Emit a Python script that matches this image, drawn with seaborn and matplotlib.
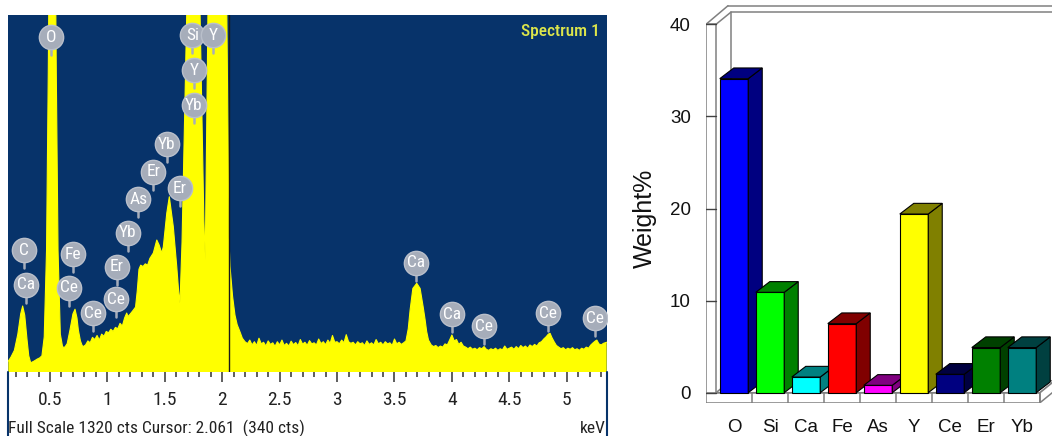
import numpy as np
import matplotlib
matplotlib.use("Agg")
import matplotlib.pyplot as plt
from matplotlib.patches import Polygon, Rectangle
from matplotlib.lines import Line2D
from matplotlib.ticker import MultipleLocator, FixedLocator
from matplotlib import transforms
import seaborn as sns

# ---------------- EDS spectrum (energy in keV, counts) ----------------
spectrum_kev = [
    0.137, 0.16, 0.19, 0.22, 0.245, 0.262, 0.28, 0.30, 0.315, 0.332,
    0.36, 0.39, 0.41, 0.43, 0.45, 0.47, 0.485, 0.50, 0.52, 0.54,
    0.555, 0.57, 0.59, 0.61, 0.63, 0.65, 0.674, 0.70, 0.718, 0.735,
    0.747, 0.765, 0.78, 0.79, 0.81, 0.83, 0.85, 0.87, 0.89, 0.91,
    0.93, 0.95, 0.97, 0.99, 1.01, 1.03, 1.05, 1.07, 1.09, 1.11,
    1.13, 1.15, 1.168, 1.18, 1.20, 1.226, 1.245, 1.26, 1.275, 1.29,
    1.31, 1.33, 1.35, 1.37, 1.40, 1.43, 1.45, 1.473, 1.487, 1.517,
    1.539, 1.574, 1.604, 1.62, 1.632, 1.65, 1.67, 1.69, 1.72, 1.75,
    1.78, 1.807, 1.825, 1.84, 1.852, 1.862, 1.875, 1.90, 1.95, 2.00,
    2.02, 2.04, 2.05, 2.058, 2.068, 2.09, 2.111, 2.13, 2.155, 2.175,
    2.198, 2.22, 2.24, 2.26, 2.28, 2.30, 2.32, 2.34, 2.36, 2.38,
    2.40, 2.42, 2.44, 2.46, 2.48, 2.50, 2.52, 2.54, 2.56, 2.58,
    2.60, 2.62, 2.64, 2.66, 2.68, 2.70, 2.72, 2.74, 2.76, 2.78,
    2.80, 2.82, 2.84, 2.86, 2.88, 2.90, 2.92, 2.94, 2.96, 2.98,
    3.00, 3.02, 3.04, 3.06, 3.08, 3.10, 3.12, 3.14, 3.16, 3.18,
    3.20, 3.22, 3.24, 3.26, 3.28, 3.30, 3.32, 3.34, 3.36, 3.38,
    3.40, 3.42, 3.44, 3.46, 3.48, 3.50, 3.52, 3.54, 3.56, 3.58,
    3.60, 3.62, 3.636, 3.66, 3.694, 3.723, 3.75, 3.767, 3.78, 3.796,
    3.82, 3.84, 3.86, 3.88, 3.90, 3.92, 3.94, 3.96, 3.98, 4.00,
    4.02, 4.04, 4.06, 4.08, 4.10, 4.12, 4.14, 4.16, 4.18, 4.20,
    4.22, 4.24, 4.26, 4.28, 4.30, 4.32, 4.34, 4.36, 4.38, 4.40,
    4.42, 4.44, 4.46, 4.48, 4.50, 4.52, 4.54, 4.56, 4.58, 4.60,
    4.62, 4.64, 4.66, 4.68, 4.70, 4.72, 4.74, 4.76, 4.78, 4.80,
    4.82, 4.84, 4.855, 4.87, 4.89, 4.91, 4.93, 4.95, 4.97, 4.99,
    5.01, 5.03, 5.05, 5.07, 5.09, 5.11, 5.13, 5.15, 5.17, 5.19,
    5.21, 5.23, 5.25, 5.262, 5.28, 5.30, 5.32, 5.348,
]
spectrum_cts = [
    40, 55, 80, 140, 215, 244, 210, 120, 60, 34,
    40, 48, 52, 60, 130, 450, 1100, 1900, 2350, 1900,
    1100, 450, 140, 92, 92, 105, 155, 215, 232, 200,
    155, 115, 98, 94, 100, 115, 108, 128, 120, 135,
    118, 140, 132, 150, 145, 158, 150, 165, 160, 180,
    170, 200, 218, 205, 215, 229, 240, 300, 380, 395,
    390, 400, 395, 420, 440, 488, 470, 440, 463, 587,
    648, 537, 389, 300, 254, 480, 900, 1320, 1800, 1900,
    1750, 1320, 900, 560, 414, 800, 1320, 2000, 2400, 2300,
    1900, 1320, 900, 500, 389, 280, 210, 175, 148, 125,
    112, 105, 118, 100, 112, 98, 125, 104, 110, 96,
    115, 102, 108, 95, 112, 100, 118, 98, 106, 96,
    114, 101, 109, 97, 120, 103, 110, 99, 116, 104,
    108, 100, 122, 105, 112, 101, 118, 106, 135, 110,
    112, 104, 118, 108, 138, 112, 106, 110, 100, 112,
    104, 108, 98, 115, 102, 108, 100, 120, 104, 110,
    100, 112, 104, 108, 98, 122, 104, 110, 102, 108,
    115, 160, 229, 309, 328, 309, 240, 192, 150, 118,
    100, 94, 98, 90, 96, 92, 104, 100, 118, 137,
    115, 120, 102, 110, 96, 92, 86, 92, 84, 88,
    82, 90, 86, 94, 84, 80, 86, 82, 88, 80,
    86, 82, 96, 84, 88, 92, 84, 94, 86, 98,
    90, 96, 88, 100, 94, 102, 96, 108, 112, 122,
    130, 140, 143, 128, 112, 98, 92, 86, 90, 82,
    88, 84, 90, 82, 86, 80, 88, 84, 92, 88,
    100, 108, 115, 118, 104, 100, 106, 110,
]

# Element line markers: label, energy (keV), marker height (counts)
marker_text = ["O", "Si", "Y", "Yb", "Y", "Yb", "Er", "As", "Er", "Yb",
               "Er", "Ce", "Ce", "Fe", "Ce", "C", "Ca", "Ca", "Ca", "Ce",
               "Ce", "Ce"]
marker_kev = [0.509, 1.740, 1.754, 1.754, 1.922, 1.517, 1.400, 1.269, 1.632, 1.177,
              1.081, 1.072, 0.872, 0.703, 0.666, 0.274, 0.291, 3.688, 4.004, 4.280,
              4.841, 5.247]
marker_cts = [1238, 1246, 1116, 987, 1246, 843, 741, 638, 679, 515,
              389, 269, 217, 435, 312, 451, 322, 404, 213, 170,
              217, 199]

full_scale_cts = 1320
cursor_kev = 2.061
cursor_cts = 340
major_ticks_kev = [0.5, 1.0, 1.5, 2.0, 2.5, 3.0, 3.5, 4.0, 4.5, 5.0]
major_tick_labels = ["0.5", "1", "1.5", "2", "2.5", "3", "3.5", "4", "4.5", "5"]

# ---------------- Composition (weight %) ----------------
elements = ["O", "Si", "Ca", "Fe", "As", "Y", "Ce", "Er", "Yb"]
weight_pct = [34.1, 10.9, 1.7, 7.5, 0.8, 19.4, 2.0, 4.9, 4.9]
front_colors = ["#0000FF", "#00FF00", "#00FFFF", "#FF0000", "#FF00FF",
                "#FFFF00", "#000080", "#008000", "#008080"]
shade_colors = ["#000080", "#008000", "#008080", "#800000", "#800080",
                "#808000", "#000040", "#004000", "#004040"]
weight_ticks = [0, 10, 20, 30, 40]

# ---------------- styling ----------------
sns.set_theme(style="white")
narrow = ["Roboto Condensed", "Liberation Sans Narrow", "Liberation Sans", "DejaVu Sans"]
arial = ["Liberation Sans", "DejaVu Sans"]
plt.rcParams["font.family"] = narrow

W, H = 1052, 436
fig = plt.figure(figsize=(W / 100, H / 100), dpi=100)
fig.patch.set_facecolor("white")

navy = "#07336A"
yellow = "#FFFF00"

# ---------------- left panel: spectrum ----------------
L0, R0, T0, B0 = 8.3, 606.7, 15.0, 372.0
ax = fig.add_axes([L0 / W, (H - B0) / H, (R0 - L0) / W, (B0 - T0) / H])
ax.set_facecolor(navy)
ax.fill_between(spectrum_kev, spectrum_cts, 0, color=yellow, lw=0, zorder=2)
sns.lineplot(x=spectrum_kev, y=spectrum_cts, ax=ax, color=yellow, lw=0.8,
             sort=False, estimator=None, zorder=2)
ax.set_xlim(spectrum_kev[0], spectrum_kev[-1])
ax.set_ylim(0, full_scale_cts)
ax.axvline(cursor_kev, color="#1a1a1a", lw=1.0, zorder=3)

for side in ax.spines.values():
    side.set_visible(False)
ax.set_yticks([])
ax.xaxis.set_major_locator(FixedLocator(major_ticks_kev))
ax.set_xticklabels(major_tick_labels)
ax.xaxis.set_minor_locator(MultipleLocator(0.1))
ax.tick_params(axis="x", which="both", bottom=True, direction="out",
               color="#333333", width=1.1)
ax.tick_params(axis="x", which="major", length=7, pad=7, labelsize=14,
               labelcolor="#222222")
ax.tick_params(axis="x", which="minor", length=3.5)

# element badges with a short stem pointing at the line
badge_face = "#A6ADBA"
for lab, e, c in zip(marker_text, marker_kev, marker_cts):
    anchor = fig.dpi_scale_trans + transforms.ScaledTranslation(e, c, ax.transData)
    stem = Line2D([0, 0], [-0.10, -0.18], transform=anchor, color=badge_face,
                  lw=1.8, zorder=4)
    stem.set_clip_path(ax.patch)
    ax.add_line(stem)
    ax.plot([e], [c], "o", ms=17.5, mfc=badge_face, mec="#B9BFCA", mew=1.0,
            zorder=5, clip_on=True)
    ax.text(e, c, lab, ha="center", va="center", color="white", fontsize=12.5,
            zorder=6, clip_on=True)

ax.text(0.988, 0.955, "Spectrum 1", transform=ax.transAxes, ha="right",
        va="center", color="#DDE64B", fontsize=12.5, fontweight="medium")

# blue border continuing below the plot area
for xb in (L0, R0):
    fig.add_artist(Line2D([xb / W, xb / W], [0, (H - B0) / H], color=navy, lw=1.5))

fig.text(L0 / W, 1 - 428 / H,
         f"Full Scale {full_scale_cts} cts Cursor: {cursor_kev:.3f}  ({cursor_cts} cts)",
         ha="left", va="center", fontsize=12.5, color="#222222")
fig.text((R0 - 1) / W, 1 - 428 / H, "keV", ha="right", va="center",
         fontsize=12.5, color="#222222")

# ---------------- right panel: 3D-style bar chart ----------------
x_lo, x_hi = -0.778, 8.833
y_lo, y_hi = -1.086, 42.64
ax2 = fig.add_axes([706 / W, (H - 402.7) / H, 346 / W, 402.7 / H])
ax2.set_facecolor("none")

sns.barplot(x=elements, y=weight_pct, hue=elements, palette=front_colors,
            hue_order=elements, order=elements, width=0.79, saturation=1,
            edgecolor="black", linewidth=0.8, legend=False, ax=ax2)
ax2.set_xlim(x_lo, x_hi)
ax2.set_ylim(y_lo, y_hi)

bar_dx, bar_dy = 0.389, 1.16      # bar depth offset
fr_dx, fr_dy = 0.408, 1.30        # frame depth offset
wall = -0.5
floor_front = -1.086
frame_col = "#808080"

bars = sorted([p for p in ax2.patches if isinstance(p, Rectangle)],
              key=lambda p: p.get_x())
for i, (p, shade) in enumerate(zip(bars, shade_colors)):
    x0, w, h = p.get_x(), p.get_width(), p.get_height()
    x1 = x0 + w
    z = 3 + 0.1 * i
    p.set_zorder(z)
    side_face = Polygon([(x1, 0), (x1 + bar_dx, bar_dy), (x1 + bar_dx, h + bar_dy), (x1, h)],
                        closed=True, facecolor=shade, edgecolor="black", lw=0.8, zorder=z + 0.01)
    top_face = Polygon([(x0, h), (x1, h), (x1 + bar_dx, h + bar_dy), (x0 + bar_dx, h + bar_dy)],
                       closed=True, facecolor=shade, edgecolor="black", lw=0.8, zorder=z + 0.02)
    ax2.add_patch(side_face)
    ax2.add_patch(top_face)

n = len(elements)
right_end = n - 0.5
frame_kw = dict(edgecolor=frame_col, facecolor="white", lw=1.1, zorder=1)
# floor: top, front strip, end cap
ax2.add_patch(Polygon([(wall, 0), (right_end, 0), (right_end + fr_dx, fr_dy), (wall + fr_dx, fr_dy)], **frame_kw))
ax2.add_patch(Polygon([(x_lo, floor_front), (right_end, floor_front), (right_end, 0), (x_lo, 0)], **frame_kw))
ax2.add_patch(Polygon([(right_end, floor_front), (right_end + fr_dx, floor_front + fr_dy),
                       (right_end + fr_dx, fr_dy), (right_end, 0)], **frame_kw))
for k in range(n):
    ax2.plot([k + 0.5, k + 0.5], [floor_front, 0], color=frame_col, lw=1.1, zorder=1.1)
# side wall
top = weight_ticks[-1]
ax2.add_patch(Polygon([(x_lo, 0), (wall, 0), (wall, top), (x_lo, top)], **frame_kw))
ax2.plot([x_lo, x_lo + 0.611], [top, top + 2.02], color=frame_col, lw=1.1, zorder=1)
ax2.plot([wall, wall + fr_dx], [top, top + fr_dy], color=frame_col, lw=1.1, zorder=1)
# back wall
ax2.plot([wall + fr_dx, wall + fr_dx], [fr_dy, top + fr_dy], color=frame_col, lw=1.1, zorder=1)
ax2.plot([wall + fr_dx, x_hi], [top + fr_dy, top + fr_dy], color=frame_col, lw=1.1, zorder=1)
ax2.plot([x_lo + 0.611, x_hi], [top + 2.02, top + 2.02], color=frame_col, lw=1.1, zorder=1)
# tick marks across the wall face
for v in weight_ticks:
    ax2.plot([x_lo, wall], [v, v], color="#404040", lw=1.0, zorder=1.2)

for side in ax2.spines.values():
    side.set_visible(False)
ax2.grid(False)
ax2.set_yticks(weight_ticks)
ax2.set_yticklabels([str(v) for v in weight_ticks], fontfamily=arial)
ax2.set_xticks(range(n))
ax2.set_xticklabels(elements, fontfamily=arial)
ax2.tick_params(axis="y", length=0, pad=11, labelsize=13.5, labelcolor="#111111")
ax2.tick_params(axis="x", length=0, pad=12, labelsize=13.5, labelcolor="#111111")
ax2.set_xlabel("")
ax2.set_ylabel("")

fig.text(645 / W, 1 - 218 / H, "Weight%", rotation=90, ha="center", va="center",
         fontsize=18, fontfamily=arial, color="#111111")

fig.savefig("out.png", dpi=100)
